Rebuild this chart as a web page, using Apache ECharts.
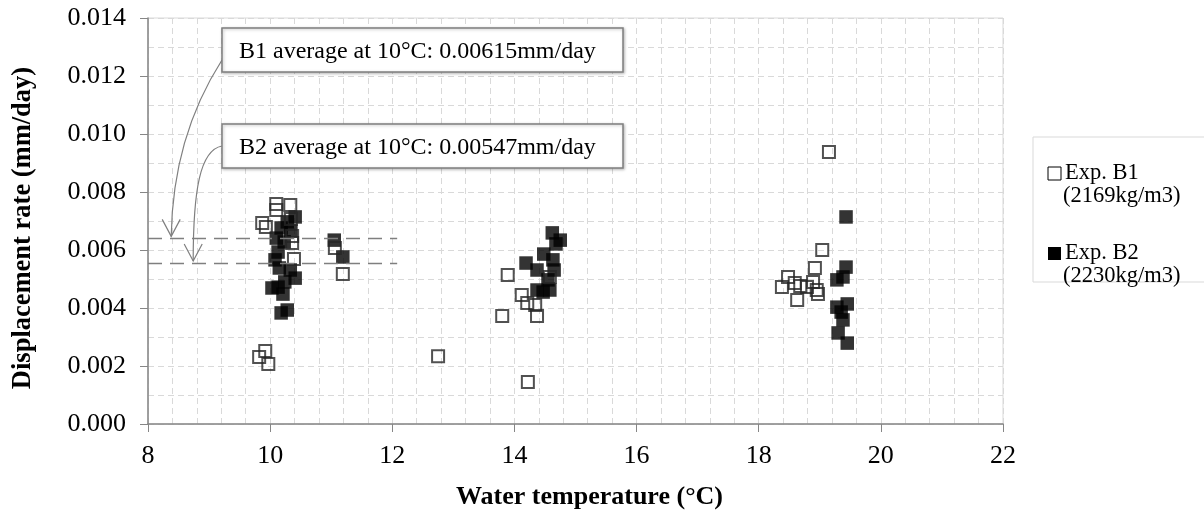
<!DOCTYPE html>
<html><head><meta charset="utf-8">
<script src="https://cdn.jsdelivr.net/npm/echarts@6/dist/echarts.min.js"></script>
<style>html,body{margin:0;padding:0;background:#fff}#c{width:1204px;height:519px}</style>
</head><body><div id="c"></div>
<script>
// ---- data ----
const b1Temp = [9.82,9.92,9.97,9.87,9.93,10.10,10.10,10.33,10.34,10.36,10.36,10.39,11.06,11.19,12.75,13.80,13.89,14.12,14.21,14.34,14.37,14.22,14.58,18.38,18.48,18.59,18.63,18.68,18.79,18.89,18.92,18.95,18.97,19.04,19.15];
const b1Rate = [0.00231,0.00252,0.00207,0.00693,0.00679,0.00738,0.00759,0.00755,0.00707,0.00648,0.00624,0.00569,0.00607,0.00517,0.00234,0.00372,0.00514,0.00445,0.00417,0.00410,0.00372,0.00145,0.00507,0.00472,0.00507,0.00486,0.00428,0.00476,0.00472,0.00490,0.00538,0.00462,0.00448,0.00600,0.00938];
const b2Temp = [10.41,10.28,10.18,10.34,10.10,10.23,10.13,10.08,10.15,10.33,10.41,10.24,10.13,10.03,10.21,10.18,10.28,11.05,11.19,14.19,14.37,14.48,14.62,14.68,14.75,14.63,14.65,14.55,14.37,14.47,14.58,19.43,19.43,19.38,19.28,19.45,19.28,19.35,19.38,19.30,19.45];
const b2Rate = [0.00714,0.00697,0.00676,0.00666,0.00641,0.00628,0.00593,0.00566,0.00538,0.00531,0.00503,0.00490,0.00472,0.00469,0.00448,0.00383,0.00393,0.00634,0.00576,0.00555,0.00531,0.00586,0.00659,0.00621,0.00634,0.00566,0.00531,0.00497,0.00462,0.00455,0.00462,0.00714,0.00541,0.00507,0.00497,0.00414,0.00403,0.00386,0.00359,0.00314,0.00279];
const seriesNames = ['Exp. B1', 'Exp. B2'];
const seriesDensity = ['(2169kg/m3)', '(2230kg/m3)'];
const avgLabels = ['B1 average at 10°C: 0.00615mm/day', 'B2 average at 10°C: 0.00547mm/day'];
const avgLineY = [0.0064, 0.00555];   // drawn heights of the dashed lines
const avgLineX = [8, 12.08];
const arrowHeadX = [8.38, 8.74];

const FONT = '"Liberation Serif","Times New Roman",serif';
const pairs = (xs, ys) => xs.map((x, i) => [x, ys[i]]);
const gridDash = {type: [6, 4], color: '#d9d9d9', width: 1};

const chart = echarts.init(document.getElementById('c'), null, {renderer: 'canvas'});
chart.setOption({
  animation: false,
  grid: {left: 148, top: 18, width: 855, height: 406, show: true, borderColor: '#d9d9d9', borderWidth: 1},
  xAxis: {
    type: 'value', min: 8, max: 22, interval: 2,
    axisLine: {lineStyle: {color: '#868686', width: 1.5}},
    axisTick: {show: true, length: 8, lineStyle: {color: '#868686'}},
    axisLabel: {fontFamily: FONT, fontSize: 26, color: '#000', margin: 19},
    splitLine: {show: true, lineStyle: gridDash},
    minorTick: {show: false, splitNumber: 5},
    minorSplitLine: {show: true, lineStyle: gridDash},
    name: 'Water temperature (°C)', nameLocation: 'middle', nameGap: 60,
    nameTextStyle: {fontFamily: FONT, fontSize: 26, fontWeight: 'bold', color: '#000', padding: [0, 0, 0, 28]}
  },
  yAxis: {
    type: 'value', min: 0, max: 0.014, interval: 0.002,
    axisLine: {show: true, lineStyle: {color: '#868686', width: 1.5}},
    axisTick: {show: true, length: 8, lineStyle: {color: '#868686'}},
    axisLabel: {fontFamily: FONT, fontSize: 26, color: '#000', margin: 22, formatter: v => v.toFixed(3)},
    splitLine: {show: true, lineStyle: gridDash},
    minorTick: {show: false, splitNumber: 2},
    minorSplitLine: {show: true, lineStyle: gridDash},
    name: 'Displacement rate (mm/day)', nameLocation: 'middle', nameGap: 111,
    nameTextStyle: {fontFamily: FONT, fontSize: 26.5, fontWeight: 'bold', color: '#000', padding: [0, 14, 0, 0]}
  },
  series: [
    {
      name: seriesNames[0], type: 'scatter', symbol: 'rect', symbolSize: 12, z: 3,
      itemStyle: {color: 'rgba(0,0,0,0)', borderColor: '#262626', borderWidth: 2},
      data: pairs(b1Temp, b1Rate),
      markLine: {
        silent: true, symbol: 'none', animation: false,
        lineStyle: {color: '#7f7f7f', type: [14, 8], width: 1.3},
        label: {show: false},
        data: avgLineY.map(y => [{coord: [avgLineX[0], y]}, {coord: [avgLineX[1], y]}])
      }
    },
    {
      name: seriesNames[1], type: 'scatter', symbol: 'rect', symbolSize: 13.5, z: 2,
      itemStyle: {color: '#000'},
      data: pairs(b2Temp, b2Rate)
    }
  ]
});

// annotations (boxes + curved arrows) and legend
const boxes = [{x: 222, y: 28, w: 401, h: 44}, {x: 222, y: 124, w: 401, h: 44}];
const starts = [[222, 60], [222, 146]];
const g = [];
boxes.forEach((b, i) => {
  g.push({type: 'rect', shape: {x: b.x, y: b.y, width: b.w, height: b.h}, z: 20,
    style: {fill: '#fff', stroke: '#7f7f7f', lineWidth: 1.5, shadowColor: 'rgba(0,0,0,0.25)', shadowBlur: 3, shadowOffsetX: 1, shadowOffsetY: 1}});
  g.push({type: 'text', x: b.x + 17, y: b.y + b.h / 2 + 2, z: 21,
    style: {text: avgLabels[i], font: '24px ' + FONT, fill: '#000', verticalAlign: 'middle', align: 'left'}});
  const head = chart.convertToPixel({gridIndex: 0}, [arrowHeadX[i], avgLineY[i]]);
  const hx = head[0], hy = head[1] - 2;
  const s = starts[i];
  const c1 = i === 0 ? [190, 110] : [200, 150];
  const c2 = i === 0 ? [hx + 1, 170] : [hx, 190];
  g.push({type: 'bezierCurve', z: 19,
    shape: {x1: s[0], y1: s[1], cpx1: c1[0], cpy1: c1[1], cpx2: c2[0], cpy2: c2[1], x2: hx, y2: hy},
    style: {stroke: '#7f7f7f', lineWidth: 1.2, fill: null}});
  g.push({type: 'polyline', z: 19, shape: {points: [[hx - 9, hy - 17], [hx, hy], [hx + 9, hy - 17]]},
    style: {stroke: '#7f7f7f', lineWidth: 1.2, fill: null}});
});
// legend
g.push({type: 'rect', shape: {x: 1033, y: 137, width: 200, height: 145}, z: 20,
  style: {fill: '#fff', stroke: '#d9d9d9', lineWidth: 1}});
const legY = [173, 253];
legY.forEach((y, i) => {
  g.push({type: 'rect', z: 21, shape: {x: 1048, y: y - 6, width: 13, height: 13},
    style: i === 0 ? {fill: '#fff', stroke: '#000', lineWidth: 1} : {fill: '#000'}});
  g.push({type: 'text', z: 21, x: 1065, y: y, style: {text: seriesNames[i], font: '22.5px ' + FONT, fill: '#000', verticalAlign: 'middle'}});
  g.push({type: 'text', z: 21, x: 1063, y: y + 23, style: {text: seriesDensity[i], font: '22.5px ' + FONT, fill: '#000', verticalAlign: 'middle'}});
});
chart.setOption({graphic: g});
</script>
</body></html>
